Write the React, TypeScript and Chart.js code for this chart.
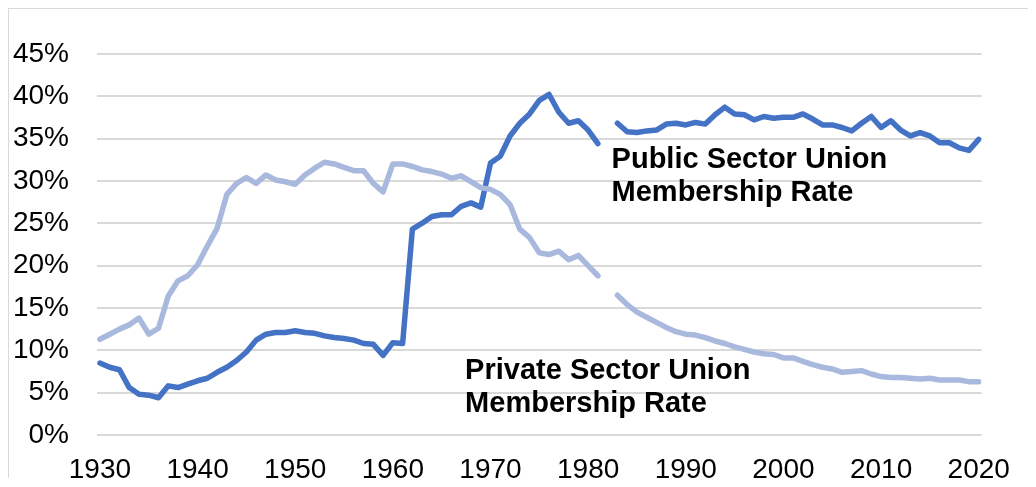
import React, { useEffect, useRef } from "react";
import { Chart, registerables } from "chart.js";

Chart.register(...registerables);

const years: number[] = [
  1930, 1931, 1932, 1933, 1934, 1935, 1936, 1937, 1938, 1939,
  1940, 1941, 1942, 1943, 1944, 1945, 1946, 1947, 1948, 1949,
  1950, 1951, 1952, 1953, 1954, 1955, 1956, 1957, 1958, 1959,
  1960, 1961, 1962, 1963, 1964, 1965, 1966, 1967, 1968, 1969,
  1970, 1971, 1972, 1973, 1974, 1975, 1976, 1977, 1978, 1979,
  1980, 1981, 1982, 1983, 1984, 1985, 1986, 1987, 1988, 1989,
  1990, 1991, 1992, 1993, 1994, 1995, 1996, 1997, 1998, 1999,
  2000, 2001, 2002, 2003, 2004, 2005, 2006, 2007, 2008, 2009,
  2010, 2011, 2012, 2013, 2014, 2015, 2016, 2017, 2018, 2019,
  2020,
];

const publicRate: (number | null)[] = [
  8.5, 8.0, 7.7, 5.6, 4.8, 4.7, 4.4, 5.8, 5.6, 6.0,
  6.4, 6.7, 7.4, 8.0, 8.8, 9.8, 11.2, 11.9, 12.1, 12.1,
  12.3, 12.1, 12.0, 11.7, 11.5, 11.4, 11.2, 10.8, 10.7, 9.4,
  10.9, 10.8, 24.3, 25.0, 25.8, 26.0, 26.0, 27.0, 27.4, 26.9,
  32.1, 32.9, 35.3, 36.8, 37.9, 39.5, 40.2, 38.1, 36.8, 37.1,
  36.0, 34.4, null, 36.8, 35.8, 35.7, 35.9, 36.0, 36.7, 36.8,
  36.6, 36.9, 36.7, 37.8, 38.7, 37.9, 37.8, 37.2, 37.6, 37.4,
  37.5, 37.5, 37.9, 37.3, 36.6, 36.6, 36.3, 35.9, 36.8, 37.6,
  36.3, 37.1, 36.0, 35.3, 35.7, 35.3, 34.5, 34.5, 33.9, 33.6,
  34.9,
];

const privateRate: (number | null)[] = [
  11.3, 11.9, 12.5, 13.0, 13.8, 11.9, 12.6, 16.4, 18.2, 18.8,
  20.1, 22.3, 24.4, 28.4, 29.7, 30.4, 29.7, 30.7, 30.1, 29.9,
  29.6, 30.7, 31.5, 32.2, 32.0, 31.6, 31.2, 31.2, 29.7, 28.7,
  32.0, 32.0, 31.7, 31.3, 31.1, 30.8, 30.3, 30.6, 29.9, 29.2,
  29.0, 28.4, 27.2, 24.3, 23.3, 21.5, 21.3, 21.7, 20.7, 21.2,
  20.0, 18.8, null, 16.5, 15.4, 14.5, 13.9, 13.3, 12.7, 12.2,
  11.9, 11.8, 11.5, 11.1, 10.8, 10.4, 10.1, 9.8, 9.6, 9.5,
  9.1, 9.1, 8.7, 8.3, 8.0, 7.8, 7.4, 7.5, 7.6, 7.2,
  6.9, 6.8, 6.8, 6.7, 6.6, 6.7, 6.5, 6.5, 6.5, 6.3,
  6.3,
];

const xTickYears: number[] = [1930, 1940, 1950, 1960, 1970, 1980, 1990, 2000, 2010, 2020];

// Series labels anchored in data space: [year of left edge, % at first-line baseline]
const labelTexts: string[][] = [
  ["Public Sector Union", "Membership Rate"],
  ["Private Sector Union", "Membership Rate"],
];
const labelAnchorYear: number[] = [1982.4, 1967.4];
const labelAnchorPct: number[] = [31.5, 6.6];

const FONT = '"Liberation Sans", Arial, sans-serif';

const labelPlugin = {
  id: "seriesLabels",
  afterDatasetsDraw(chart: any) {
    const { ctx, scales } = chart;
    ctx.save();
    ctx.font = `bold 29px ${FONT}`;
    ctx.fillStyle = "#000000";
    ctx.textAlign = "left";
    ctx.textBaseline = "alphabetic";
    labelTexts.forEach((lines, i) => {
      const x = scales.x.getPixelForValue(labelAnchorYear[i]);
      const y = scales.y.getPixelForValue(labelAnchorPct[i]);
      lines.forEach((line, j) => {
        ctx.fillText(line, x, y + j * 33);
      });
    });
    ctx.restore();
  },
};

export default function App() {
  const canvasRef = useRef<HTMLCanvasElement | null>(null);

  useEffect(() => {
    if (!canvasRef.current) return;
    const toPoints = (vals: (number | null)[]) =>
      years.map((yr, i) => ({ x: yr, y: vals[i] }));

    const chart = new Chart(canvasRef.current, {
      type: "line",
      data: {
        datasets: [
          {
            label: "Private Sector Union Membership Rate",
            data: toPoints(privateRate) as any,
            borderColor: "#A9B8DD",
            backgroundColor: "#A9B8DD",
            borderWidth: 5.5,
            pointRadius: 0,
            tension: 0,
            spanGaps: false,
            borderCapStyle: "round",
            borderJoinStyle: "round",
          },
          {
            label: "Public Sector Union Membership Rate",
            data: toPoints(publicRate) as any,
            borderColor: "#4472C4",
            backgroundColor: "#4472C4",
            borderWidth: 5.5,
            pointRadius: 0,
            tension: 0,
            spanGaps: false,
            borderCapStyle: "round",
            borderJoinStyle: "round",
          },
        ],
      },
      options: {
        animation: false,
        responsive: true,
        maintainAspectRatio: false,
        layout: { padding: { top: 43, right: 45, left: 0, bottom: 0 } },
        plugins: {
          legend: { display: false },
          tooltip: { enabled: false },
        },
        scales: {
          x: {
            type: "linear",
            min: 1929.7,
            max: 2020.3,
            afterBuildTicks: (scale: any) => {
              scale.ticks = xTickYears.map((v) => ({ value: v }));
            },
            afterFit: (scale: any) => {
              scale.height = 51;
            },
            grid: { display: false, drawTicks: false },
            border: { display: false },
            ticks: {
              autoSkip: false,
              maxRotation: 0,
              padding: 18,
              color: "#000000",
              font: { family: FONT, size: 28 },
              callback: (v: any) => String(v),
            },
          },
          y: {
            min: 0,
            max: 45,
            afterFit: (scale: any) => {
              scale.width = 88;
            },
            grid: { color: "#D9D9D9", lineWidth: 2, drawTicks: false },
            border: { display: false },
            ticks: {
              stepSize: 5,
              padding: 28,
              color: "#000000",
              font: { family: FONT, size: 28 },
              callback: (v: any) => `${v}%`,
            },
          },
        },
      },
      plugins: [labelPlugin],
    });
    return () => chart.destroy();
  }, []);

  return (
    <div
      style={{
        borderLeft: "1px solid #D9D9D9",
        borderTop: "1px solid #D9D9D9",
        width: 1019,
        height: 477,
        marginBottom: -8,
        position: "relative",
      }}
    >
      <canvas ref={canvasRef} />
    </div>
  );
}
